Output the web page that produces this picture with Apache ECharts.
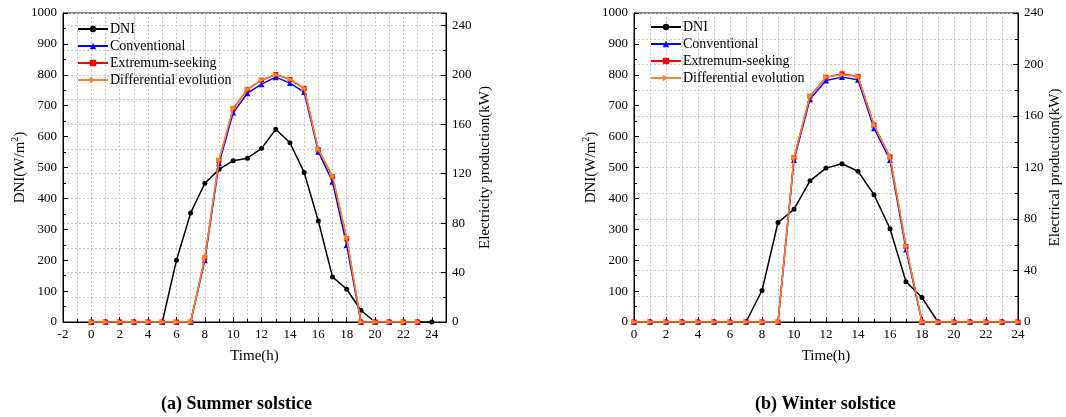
<!DOCTYPE html>
<html>
<head>
<meta charset="utf-8">
<script src="https://cdn.jsdelivr.net/npm/echarts@6/dist/echarts.min.js"></script>
<style>html,body{margin:0;padding:0;background:#fff;}#c{width:1066px;height:417px;}</style>
</head>
<body>
<div id="c"></div>
<script>
// ---------- data ----------
var seriesNames = ['DNI', 'Conventional', 'Extremum-seeking', 'Differential evolution'];
var hoursDNI = [0,1,2,3,4,5,6,7,8,9,10,11,12,13,14,15,16,17,18,19,20,21,22,23,24];
var hoursSummerPower = [0,1,2,3,4,5,6,7,8,9,10,11,12,13,14,15,16,17,18,19,20,21,22,23];
var hoursWinterPower = [0,1,2,3,4,5,6,7,8,9,10,11,12,13,14,15,16,17,18,19,20,21,22,23,24];

// Summer solstice
var summerDNI = [0,0,0,0,0,0,200,353,449,494,522,530,562,624,580,484,327,146,106,38,0,0,0,0,0];
var summerConventional = [0,0,0,0,0,0,0,0,50,128.4,169.4,185.1,192.4,198.1,193.3,186,137.8,113.5,62.2,0,0,0,0,0];
var summerExtremum = [0,0,0,0,0,0,0,0,51.8,130.6,172.5,188,195.6,200.3,196.2,189,139.4,117.6,67.4,0,0,0,0,0];
var summerDifferential = [0,0,0,0,0,0,0,0,52.2,131.1,173,188.4,195.9,200,196.5,189.2,139.7,118.1,68.1,0,0,0,0,0];

// Winter solstice
var winterDNI = [0,0,0,0,0,0,0,0,102,322,365,457,498,512,488,412,302,130,79,0,0,0,0,0,0];
var winterConventional = [0,0,0,0,0,0,0,0,0,0,125.8,173.1,187.5,190.2,188.1,150.5,125.8,56.3,0,0,0,0,0,0,0];
var winterExtremum = [0,0,0,0,0,0,0,0,0,0,127.6,175.4,190,192.8,190.7,153,128.2,58.6,0,0,0,0,0,0,0];
var winterDifferential = [0,0,0,0,0,0,0,0,0,0,127.8,175.6,190.2,192,190.7,153,128.4,58.9,0,0,0,0,0,0,0];

var summerXTicks = {min: -2, max: 25, interval: 2};
var winterXTicks = {min: 0, max: 24, interval: 2};
var dniTicks = {min: 0, max: 1000, interval: 100};
var summerPowerTicks = {min: 0, max: 250, interval: 40};
var winterPowerTicks = {min: 0, max: 240, interval: 40};
var captions = ['(a) Summer solstice', '(b) Winter solstice'];
var axisNames = {time: 'Time(h)', dni: 'DNI(W/m{sup|2})', summerPower: 'Electricity production(kW)', winterPower: 'Electrical production(kW)'};

// ---------- chart ----------
var FONT = '"Liberation Serif", "Times New Roman", serif';
var colors = ['#000000', '#0000ff', '#ff0000', '#f7862a'];
var symbols = ['circle', 'triangle', 'rect', 'triangle'];
var symbolSizes = [5, 6, 5, 6];
var symbolRotates = [0, 0, 0, -90];

function zip(xs, ys) { return xs.map(function (x, i) { return [x, ys[i]]; }); }

var gridLine = {show: true, lineStyle: {color: '#c8c8c8', type: [2, 2], width: 1}};
var lbl = {fontFamily: FONT, fontSize: 13, color: '#000'};

function mainX(grid, t) {
  return {
    type: 'value', gridIndex: grid, min: t.min, max: t.max, interval: t.interval, position: 'bottom',
    axisLine: {show: true, onZero: false, lineStyle: {color: '#000', width: 1}},
    axisTick: {show: true, inside: true, length: 5, lineStyle: {color: '#000'}},
    axisLabel: Object.assign({margin: 6, formatter: function (v) { return (v - t.min) % t.interval === 0 ? String(v) : ''; }}, lbl),
    splitLine: {show: false},
    name: axisNames.time, nameLocation: 'middle', nameGap: 27,
    nameTextStyle: {fontFamily: FONT, fontSize: 15, color: '#000'}
  };
}
function helperX(grid, t) {
  return {
    type: 'value', gridIndex: grid, min: t.min, max: t.max, interval: 1, position: 'bottom',
    axisLine: {show: false, onZero: false}, axisLabel: {show: false},
    axisTick: {show: true, inside: true, length: 3, lineStyle: {color: '#000'}},
    splitLine: gridLine
  };
}
function leftY(grid) {
  return {
    type: 'value', gridIndex: grid, min: dniTicks.min, max: dniTicks.max, interval: dniTicks.interval, position: 'left',
    axisLine: {show: true, onZero: false, lineStyle: {color: '#000', width: 1}},
    axisTick: {show: true, inside: true, length: 5, lineStyle: {color: '#000'}},
    minorTick: {show: true, splitNumber: 2, length: 3, lineStyle: {color: '#000'}},
    axisLabel: Object.assign({margin: 6, formatter: function (v) { return String(v); }}, lbl),
    splitLine: {show: false},
    name: axisNames.dni, nameLocation: 'middle', nameGap: 34, nameRotate: 90,
    nameTextStyle: {fontFamily: FONT, fontSize: 15, color: '#000',
      rich: {sup: {fontFamily: FONT, fontSize: 10, verticalAlign: 'bottom', padding: [0, 0, 8, 0], color: '#000'}}}
  };
}
function rightY(grid, t, name, gap) {
  return {
    type: 'value', gridIndex: grid, min: t.min, max: t.max, interval: t.interval, position: 'right',
    axisLine: {show: true, onZero: false, lineStyle: {color: '#000', width: 1}},
    axisTick: {show: true, inside: true, length: 5, lineStyle: {color: '#000'}},
    axisLabel: Object.assign({margin: 6, formatter: function (v) { return v % t.interval === 0 ? String(v) : ''; }}, lbl),
    splitLine: {show: false},
    name: name, nameLocation: 'middle', nameGap: gap, nameRotate: 90,
    nameTextStyle: {fontFamily: FONT, fontSize: 15, color: '#000'}
  };
}
function helperY(grid, t) {
  return {
    type: 'value', gridIndex: grid, min: t.min, max: t.max, interval: 20, position: 'right',
    axisLine: {show: false, onZero: false}, axisLabel: {show: false},
    axisTick: {show: true, inside: true, length: 3, lineStyle: {color: '#000'}},
    splitLine: gridLine
  };
}

function mkSeries(i, xIdx, yIdx, data) {
  return {
    name: seriesNames[i], type: 'line', xAxisIndex: xIdx, yAxisIndex: yIdx, data: data,
    symbol: symbols[i], symbolSize: symbolSizes[i], symbolRotate: symbolRotates[i], showAllSymbol: true,
    itemStyle: {color: colors[i]}, lineStyle: {color: colors[i], width: 1.5}, z: 2 + i
  };
}

function mkLegend(left, top) {
  return {
    left: left, top: top, orient: 'vertical', itemGap: 3, itemWidth: 30, itemHeight: 8,
    symbolRotate: 'inherit',
    textStyle: {fontFamily: FONT, fontSize: 14, color: '#000', padding: [0, 0, 0, -3]},
    data: seriesNames.map(function (n) { return {name: n}; })
  };
}

var option = {
  animation: false,
  backgroundColor: '#fff',
  grid: [
    {left: 63, right: 620, top: 13, bottom: 95, show: true, borderColor: '#000', borderWidth: 1, backgroundColor: 'transparent'},
    {left: 634, right: 48, top: 13, bottom: 95, show: true, borderColor: '#000', borderWidth: 1, backgroundColor: 'transparent'}
  ],
  legend: [mkLegend(72, 17), mkLegend(645, 15)],
  xAxis: [mainX(0, summerXTicks), helperX(0, summerXTicks), mainX(1, winterXTicks), helperX(1, winterXTicks)],
  yAxis: [
    leftY(0), rightY(0, summerPowerTicks, axisNames.summerPower, 32), helperY(0, summerPowerTicks),
    leftY(1), rightY(1, winterPowerTicks, axisNames.winterPower, 30), helperY(1, winterPowerTicks)
  ],
  series: [
    mkSeries(0, 0, 0, zip(hoursDNI, summerDNI)),
    mkSeries(1, 0, 1, zip(hoursSummerPower, summerConventional)),
    mkSeries(2, 0, 1, zip(hoursSummerPower, summerExtremum)),
    mkSeries(3, 0, 1, zip(hoursSummerPower, summerDifferential)),
    mkSeries(0, 2, 3, zip(hoursDNI, winterDNI)),
    mkSeries(1, 2, 4, zip(hoursWinterPower, winterConventional)),
    mkSeries(2, 2, 4, zip(hoursWinterPower, winterExtremum)),
    mkSeries(3, 2, 4, zip(hoursWinterPower, winterDifferential))
  ],
  graphic: [
    {type: 'text', left: 236 - 75, top: 395, style: {text: captions[0], fontFamily: FONT, fontSize: 18, fontWeight: 'bold', fill: '#000'}},
    {type: 'text', left: 827 - 72, top: 395, style: {text: captions[1], fontFamily: FONT, fontSize: 18, fontWeight: 'bold', fill: '#000'}}
  ]
};

var chart = echarts.init(document.getElementById('c'), null, {renderer: 'canvas'});
chart.setOption(option);
</script>
</body>
</html>
